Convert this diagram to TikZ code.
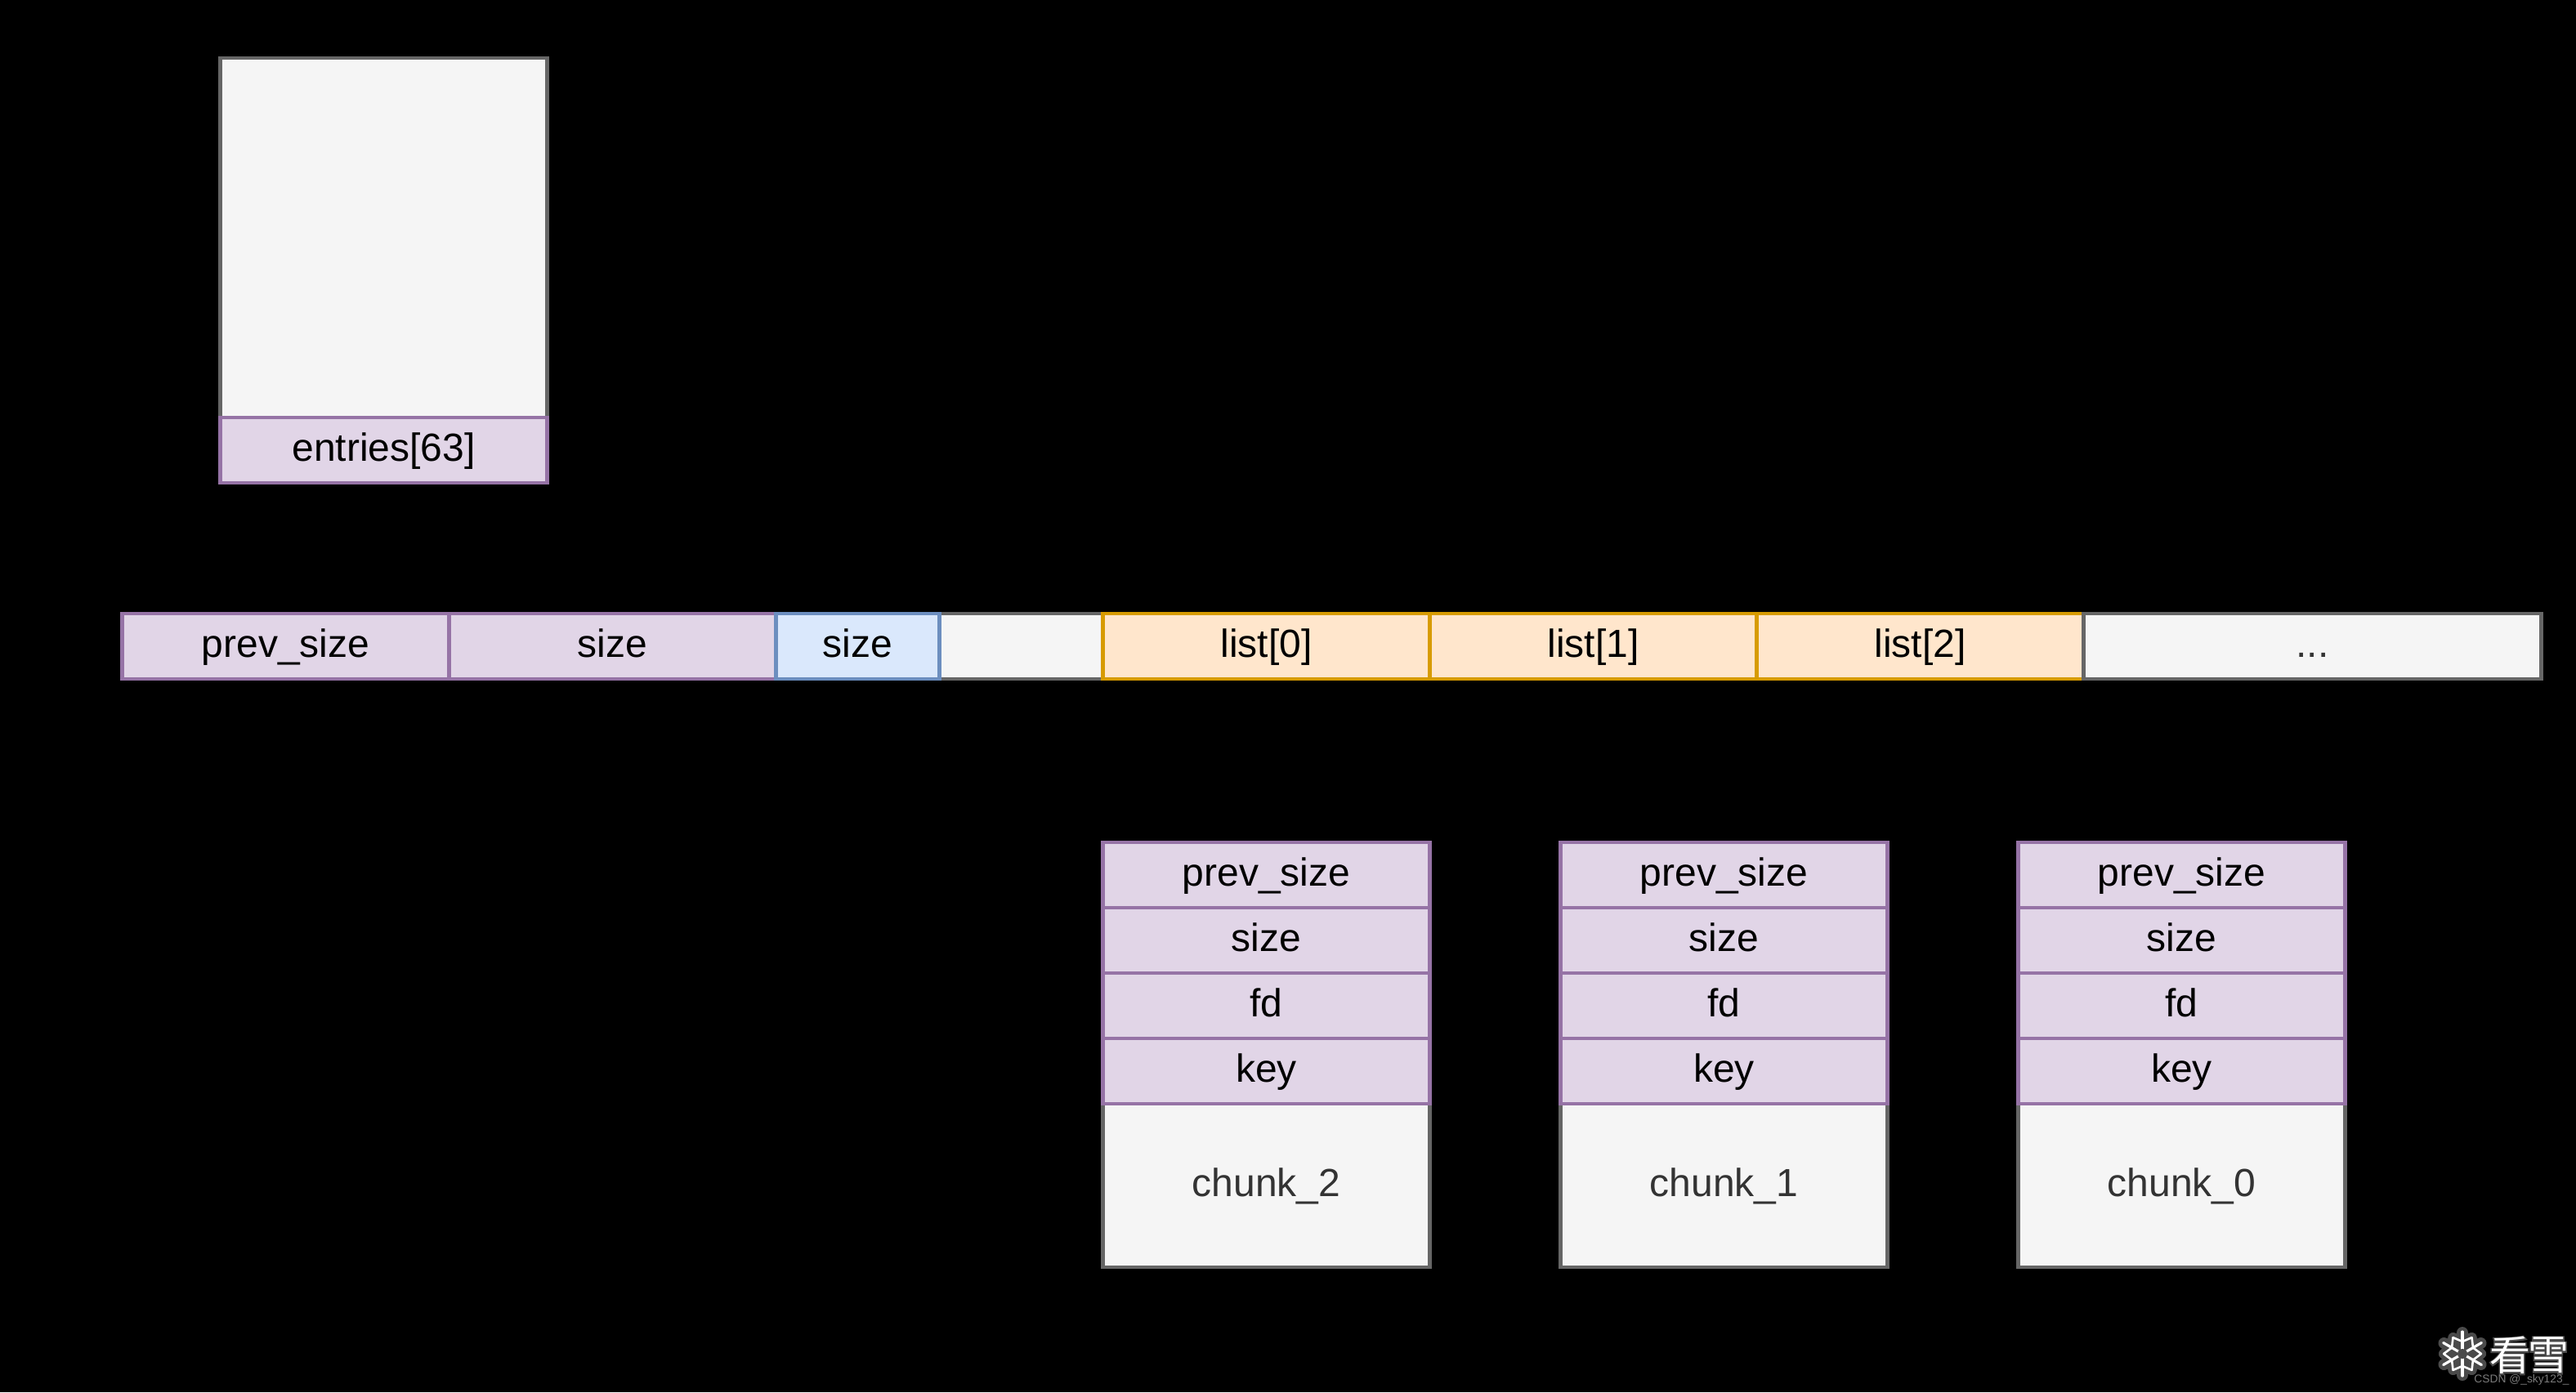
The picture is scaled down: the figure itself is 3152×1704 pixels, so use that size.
\documentclass[tikz,border=0pt]{standalone}
\usepackage{fontspec}
\usetikzlibrary{calc}
\setmainfont{Liberation Sans}
\newfontfamily\cjkfont{Noto Sans CJK SC}
\newfontfamily\cjkhalo[FakeBold=6]{Noto Sans CJK SC}
\tikzset{
  x=0.5pt,y=-0.5pt,
  cell/.style={rectangle,draw,line width=2.2pt,outer sep=0pt,inner sep=0pt,anchor=north west,font=\fontsize{24}{28}\selectfont,text=black,text height=17pt,text depth=4pt},
  purple cell/.style={cell,fill=pfill,draw=pline},
  blue cell/.style={cell,fill=bfill,draw=bline},
  orange cell/.style={cell,fill=ofill,draw=oline},
  gray cell/.style={cell,fill=gfill,draw=gline,text=gtext},
  w400/.style={minimum width=200pt},
  w200/.style={minimum width=100pt},
  w560/.style={minimum width=280pt},
  h80/.style={minimum height=40pt},
  h200/.style={minimum height=100pt},
  h440/.style={minimum height=220pt},
  flake/.style={line cap=round,line width=#1},
  mark glyph/.style={inner sep=0pt,text=white,font=\cjkfont\fontsize{25}{25}\selectfont},
  mark halo/.style={inner sep=0pt,text=halo,font=\cjkhalo\fontsize{25}{25}\selectfont},
}
\definecolor{pfill}{HTML}{E1D5E7}\definecolor{pline}{HTML}{9673A6}
\definecolor{bfill}{HTML}{DAE8FC}\definecolor{bline}{HTML}{6C8EBF}
\definecolor{ofill}{HTML}{FFE6CC}\definecolor{oline}{HTML}{D79B00}
\definecolor{gfill}{HTML}{F5F5F5}\definecolor{gline}{HTML}{666666}
\definecolor{gtext}{HTML}{333333}\definecolor{halo}{HTML}{4A4A4A}
\definecolor{marktext}{HTML}{7A7A7A}
\begin{document}
\begin{tikzpicture}
\path[use as bounding box,fill=black] (0,0) rectangle (3152,1704);
\begin{scope}[shift={(0.5,1)}]
% upper table
\node[gray cell,w400,h440] (tophead) at (269,70) {};
\node[purple cell,w400,h80] (entries) at (269,510) {entries[63]};
% long bar
\node[gray cell,w200,h80] (blank) at (1149,750) {};
\node[purple cell,w400,h80] (barprev) at (149,750) {prev\_size};
\node[purple cell,w400,h80] (barsize) at (549,750) {size};
\node[blue cell,w200,h80] (barblue) at (949,750) {size};
\node[orange cell,w400,h80] (list0) at (1349,750) {list[0]};
\node[orange cell,w400,h80] (list1) at (1749,750) {list[1]};
\node[orange cell,w400,h80] (list2) at (2149,750) {list[2]};
\node[gray cell,w560,h80] (rest) at (2549,750) {...};
% chunks
\foreach \cx/\cn in {1349/2,1909/1,2469/0}{
  \node[gray cell,w400,h200] (chunk\cn) at (\cx,1350) {chunk\_\cn};
  \node[purple cell,w400,h80] (prev\cn) at (\cx,1030) {prev\_size};
  \node[purple cell,w400,h80] (size\cn) at (\cx,1110) {size};
  \node[purple cell,w400,h80] (fd\cn) at (\cx,1190) {fd};
  \node[purple cell,w400,h80] (key\cn) at (\cx,1270) {key};
}
\end{scope}
% watermark
\coordinate (fc) at (3013,1657);
\foreach \a in {30,90,150}{
  \draw[halo,flake=7pt] ($(fc)+(\a:26)$) -- ($(fc)+(\a+180:26)$);
}
\foreach \a in {30,90,150,210,270,330}{
  \draw[halo,flake=6pt] ($(fc)+(\a:16)$) -- ($(fc)+(\a+30:23)$);
  \draw[halo,flake=6pt] ($(fc)+(\a:16)$) -- ($(fc)+(\a-30:23)$);
}
\foreach \a in {30,90,150}{
  \draw[white,flake=1.6pt] ($(fc)+(\a:27)$) -- ($(fc)+(\a+180:27)$);
}
\foreach \a in {30,90,150,210,270,330}{
  \draw[white,flake=1.3pt] ($(fc)+(\a:15)$) -- ($(fc)+(\a+30:23)$);
  \draw[white,flake=1.3pt] ($(fc)+(\a:15)$) -- ($(fc)+(\a-30:23)$);
}
\fill[halo] (fc) circle (6);
\node[mark halo] (kanh) at (3071,1659) {看};
\node[mark halo] (xueh) at (3118,1659) {雪};
\node[mark glyph] (kan) at (3071,1659) {看};
\node[mark glyph] (xue) at (3118,1659) {雪};
\node[text=marktext,inner sep=0pt,anchor=base west,font=\fontsize{6.9}{8}\selectfont] (csdn) at (3027,1692) {CSDN @\_sky123\_};
\end{tikzpicture}
\end{document}
